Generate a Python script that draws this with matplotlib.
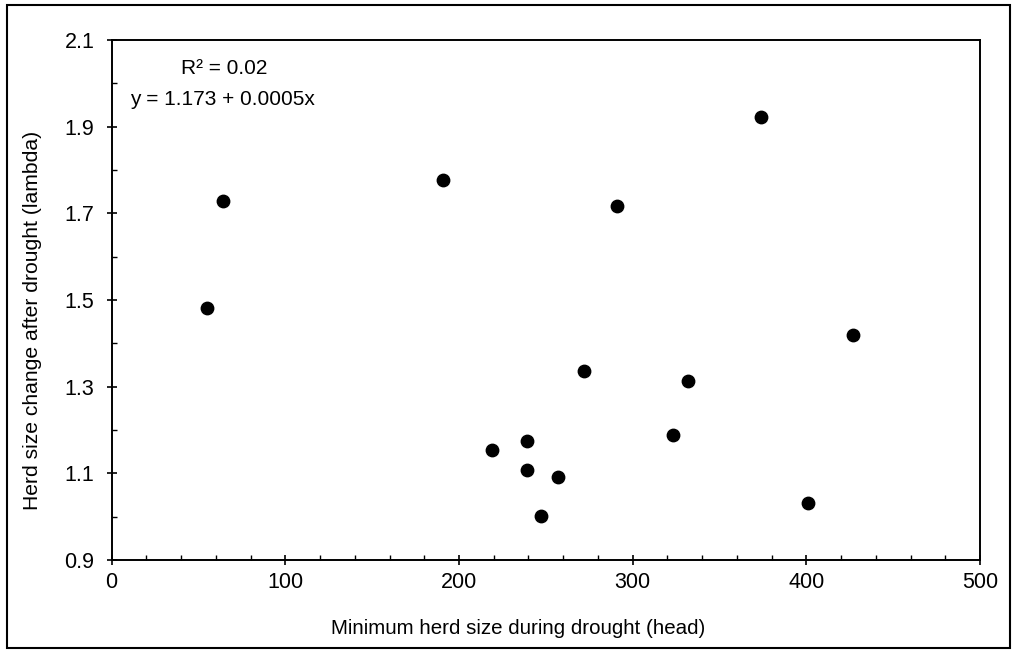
# Herd size change vs minimum herd size during drought

import numpy as np
import matplotlib.pyplot as plt
from matplotlib.patches import Rectangle
from matplotlib.ticker import MultipleLocator

plt.rcParams['font.family'] = ['Liberation Sans', 'DejaVu Sans']

# data
min_herd = [55, 64, 191, 219, 239, 239, 247, 257, 272, 291, 323, 332, 374, 401, 427]
lambda_chg = [1.481, 1.729, 1.777, 1.155, 1.174, 1.107, 1.001, 1.092, 1.336, 1.718,
              1.189, 1.314, 1.922, 1.031, 1.419]
y_ticks = [0.9, 1.1, 1.3, 1.5, 1.7, 1.9, 2.1]
y_minor = [1.0, 1.2, 1.4, 1.6, 1.8, 2.0]

fig = plt.figure(figsize=(10.15, 6.53), dpi=100)
ax = fig.add_axes([0.110, 0.1424, 0.8555, 0.7963])

ax.scatter(min_herd, lambda_chg, s=80, color='black', zorder=3)

ax.set_xlim(0, 500)
ax.set_ylim(0.9, 2.1)
ax.xaxis.set_major_locator(MultipleLocator(100))
ax.xaxis.set_minor_locator(MultipleLocator(20))
ax.set_yticks(y_ticks)
ax.set_yticklabels(['%.1f' % v for v in y_ticks])
ax.set_yticks(y_minor, minor=True)

ax.tick_params(which='major', direction='inout', length=7, width=1.2, labelsize=15.5)
ax.tick_params(axis='x', which='major', pad=5)
ax.tick_params(axis='y', which='major', pad=9)
ax.tick_params(which='minor', direction='in', length=3.5, width=1)
for sp in ax.spines.values():
    sp.set_linewidth(1.4)

ax.set_xlabel('Minimum herd size during drought (head)', fontsize=14.8)
ax.set_ylabel('Herd size change after drought (lambda)', fontsize=15.2)
ax.xaxis.set_label_coords(0.468, -0.131)
ax.yaxis.set_label_coords(-0.091, 0.4615)
ax.xaxis.label.set_va('center')
ax.yaxis.label.set_va('center')

ax.text(0.130, 0.946, 'R\u00b2 = 0.02', transform=ax.transAxes, fontsize=15, ha='center', va='center')
ax.text(0.021, 0.885, 'y = 1.173 + 0.0005x', transform=ax.transAxes, fontsize=15, ha='left', va='center')

# outer frame round the whole figure
fig.patches.append(Rectangle((0.007, 0.008), 0.988, 0.984, transform=fig.transFigure,
                             fill=False, edgecolor='black', linewidth=1.5))

plt.savefig('out.png', dpi=100)
